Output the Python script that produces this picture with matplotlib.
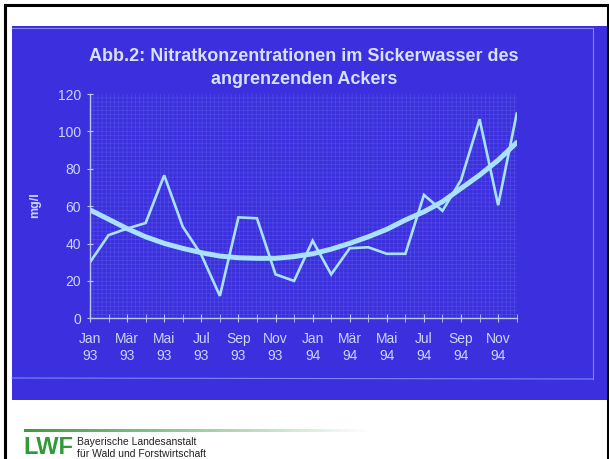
import numpy as np
import matplotlib.pyplot as plt
from matplotlib.lines import Line2D
from matplotlib.patches import Rectangle

# monthly nitrate values, Jan 93 .. Dec 94 (mg/l)
nitrat = [30, 44.5, 48, 51, 76.5, 49, 34, 12, 54, 53.5, 23.5, 20,
          41.5, 23.5, 37.5, 38, 34.5, 34.5, 66, 57.5, 74, 106.5, 60.5, 109.5]
# trend curve as drawn on the slide
trend = [58, 53, 48, 43.6, 40.1, 37.4, 35.1, 33.3, 32.4, 32.1, 32.1, 33,
         34.5, 37, 40.1, 43.6, 47.6, 52.6, 57, 62.4, 69.5, 76.6, 84.6, 94]
tick_labels = ['Jan\n93', 'Mär\n93', 'Mai\n93', 'Jul\n93', 'Sep\n93', 'Nov\n93',
               'Jan\n94', 'Mär\n94', 'Mai\n94', 'Jul\n94', 'Sep\n94', 'Nov\n94']
months = np.arange(len(nitrat))

bg = '#3c2fde'
txt = '#cdd6ff'
line_c = '#a8e2ff'

plt.rcParams['font.family'] = ['Liberation Sans', 'DejaVu Sans']
plt.rcParams['hatch.linewidth'] = 0.5

W, H = 609, 459
fig = plt.figure(figsize=(W / 100, H / 100), dpi=100)
fig.patch.set_facecolor('white')

# slide background
fig.patches.append(Rectangle((12 / W, 1 - 400 / H), 597 / W, 374 / H,
                             transform=fig.transFigure, facecolor=bg,
                             edgecolor='none', zorder=-10))
# faint projector frame
frame = dict(color='#7f88f0', lw=0.8, transform=fig.transFigure)
fig.add_artist(Line2D([12 / W, 593 / W], [1 - 28 / H, 1 - 28 / H], **frame))
fig.add_artist(Line2D([593 / W, 593 / W], [1 - 28 / H, 1 - 379 / H], **frame))
fig.add_artist(Line2D([12 / W, 593 / W], [1 - 378 / H, 1 - 379 / H], **frame))

# black page border
border = dict(color='black', lw=2.2, transform=fig.transFigure)
fig.add_artist(Line2D([4.5 / W, 4.5 / W], [0, 1 - 4.5 / H], **border))
fig.add_artist(Line2D([4.5 / W, 1], [1 - 4.5 / H, 1 - 4.5 / H], **border))
fig.add_artist(Line2D([607.5 / W, 607.5 / W], [0, 1 - 4.5 / H], **border))

ax = fig.add_axes([90 / W, 1 - 318.3 / H, 426.7 / W, 224.3 / H])
ax.set_zorder(5)
ax.patch.set_facecolor(bg)
ax.patch.set_hatch('++++')
ax.patch.set_edgecolor((0.62, 0.70, 1.0, 0.2))
ax.patch.set_linewidth(0)

ax.plot(months, nitrat, color=line_c, lw=1.9, solid_joinstyle='miter')
ax.plot(months, trend, color=line_c, lw=3.6, solid_capstyle='round')

ax.set_xlim(0, 23)
ax.set_ylim(0, 120)
ax.set_yticks(range(0, 121, 20))
ax.set_xticks(months[::2])
ax.set_xticks(months, minor=True)
ax.set_xticklabels(tick_labels)
for s in ['top', 'right']:
    ax.spines[s].set_visible(False)
for s in ['left', 'bottom']:
    ax.spines[s].set_color('#b8c8ff')
    ax.spines[s].set_linewidth(1)
ax.tick_params(axis='both', which='both', colors='#b8c8ff', labelcolor=txt,
               direction='inout', labelsize=10)
ax.tick_params(axis='x', which='both', length=6, pad=7)
ax.tick_params(axis='y', length=5, pad=4)
for lab in ax.get_xticklabels():
    lab.set_linespacing(1.3)

fig.text(35 / W, 1 - 205 / H, 'mg/l', rotation=90, color=txt, fontsize=9,
         fontweight='bold', ha='center', va='center')

fig.text(304 / W, 1 - 68 / H,
         'Abb.2: Nitratkonzentrationen im Sickerwasser des\nangrenzenden Ackers',
         ha='center', va='center', color='#d8e0ff', fontsize=13,
         fontweight='bold', linespacing=1.45)

# logo strip
gax = fig.add_axes([24 / W, 1 - 431.5 / H, 346 / W, 3 / H])
grad = np.linspace(0, 1, 256)
green = np.array([0.22, 0.62, 0.25])
rgb = green[None, :] * (1 - grad[:, None]) + grad[:, None]
gax.imshow(rgb[None, :, :], aspect='auto', extent=[0, 1, 0, 1])
gax.axis('off')

fig.text(23 / W, 1 - 436 / H, 'LWF', color='#2f9a3a', fontsize=17,
         fontweight='bold', ha='left', va='top')
fig.text(77 / W, 1 - 442 / H, 'Bayerische Landesanstalt', color='#222222',
         fontsize=7.5, ha='left', va='center')
fig.text(77 / W, 1 - 454 / H, 'für Wald und Forstwirtschaft', color='#222222',
         fontsize=7.5, ha='left', va='center')

fig.savefig('out.png', dpi=100)
